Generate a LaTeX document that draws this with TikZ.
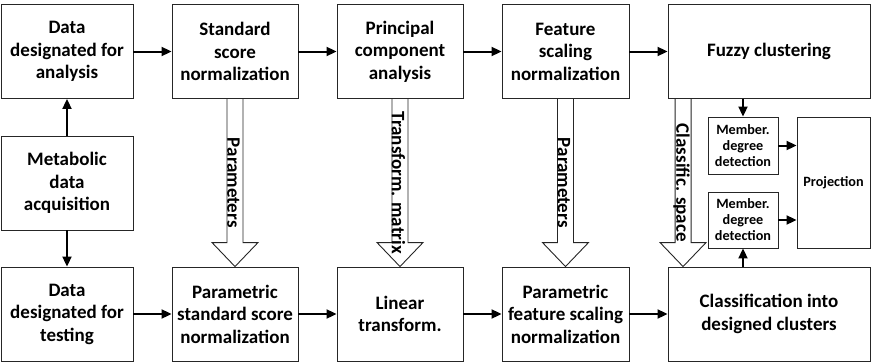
\documentclass[tikz,border=0pt]{standalone}
\usepackage{fontspec}
\setmainfont{Carlito}
\usetikzlibrary{calc,arrows.meta}
\pgfdeclarelayer{background}
\pgfsetlayers{background,main}
\newcommand{\harrow}[3]{%
  \begin{pgfonlayer}{background}
  \path[hollow] ($(#1)+(-8,0)$) -- ($(#2)+(-8,-24)$) -- ($(#2)+(-23,-24)$) -- (#2)
     -- ($(#2)+(23,-24)$) -- ($(#2)+(8,-24)$) -- ($(#1)+(8,0)$);
  \end{pgfonlayer}
  \node[lab] at ($(#1)!0.5!(#2)+(-1.5,0)$) {#3};}
\begin{document}
\begin{tikzpicture}[x=1pt,y=-1pt,
 box/.style={draw=black!85, line width=0.9pt, align=center, font=\bfseries\fontsize{19}{22.5}\selectfont, inner sep=0pt, minimum height=94pt},
 small/.style={draw=black!85, line width=0.9pt, align=center, font=\bfseries\fontsize{14.2}{16}\selectfont, inner sep=0pt},
 conn/.style={line width=2pt, -{Triangle[length=10pt,width=9pt]}},
 hollow/.style={draw=black!85, line width=0.9pt, fill=white},
 lab/.style={font=\bfseries\fontsize{19}{20}\selectfont, rotate=-90, inner sep=0pt}]
\useasboundingbox (0,0) rectangle (871,364);
% top row
\node[box, minimum width=132pt] (ana) at (67,51.5) {Data\\designated for\\analysis};
\node[box, minimum width=126pt] (std) at (235,51.5) {Standard\\score\\normalization};
\node[box, minimum width=126pt] (pca) at (400,51.5) {Principal\\component\\analysis};
\node[box, minimum width=127pt] (fsn) at (565.5,51.5) {Feature\\scaling\\normalization};
\node[box, minimum width=202pt] (fuz) at (769,51.5) {Fuzzy clustering};
% middle
\node[box, minimum width=132pt] (met) at (67,183) {Metabolic\\data\\acquisition};
\node[small, minimum width=70pt, minimum height=57pt] (mem1) at (743,145.5) {Member.\\degree\\detection};
\node[small, minimum width=70pt, minimum height=56pt] (mem2) at (743,220) {Member.\\degree\\detection};
\node[small, minimum width=73pt, minimum height=131pt] (proj) at (833.5,182.5) {Projection};
% bottom row
\node[box, minimum width=132pt] (tst) at (67,314) {Data\\designated for\\testing};
\node[box, minimum width=126pt] (pstd) at (235,314) {Parametric\\standard score\\normalization};
\node[box, minimum width=126pt] (lin) at (400,314) {Linear\\transform.};
\node[box, minimum width=127pt] (pfsn) at (565.5,314) {Parametric\\feature scaling\\normalization};
\node[box, minimum width=202pt] (cls) at (769,314) {Classification into\\designed clusters};
% connectors
\draw[conn] (met) -- (ana);
\draw[conn] (met) -- (tst);
\draw[conn] (ana) -- (std);
\draw[conn] (std) -- (pca);
\draw[conn] (pca) -- (fsn);
\draw[conn] (fsn) -- (fuz);
\draw[conn] (tst) -- (pstd);
\draw[conn] (pstd) -- (lin);
\draw[conn] (lin) -- (pfsn);
\draw[conn] (pfsn) -- (cls);
\draw[conn] (fuz.south -| mem1) -- (mem1);
\draw[conn] (cls.north -| mem2) -- (mem2);
\draw[conn] (mem1.east) -- (mem1.east -| proj.west);
\draw[conn] (mem2.east) -- (mem2.east -| proj.west);
% hollow arrows
\harrow{std.south}{pstd.north}{Parameters}
\harrow{pca.south}{lin.north}{Transform. matrix}
\harrow{fsn.south}{pfsn.north}{Parameters}
\coordinate (cs1) at ($(fuz.south west)+(15.5,0)$);
\coordinate (cs2) at ($(cls.north west)+(15.5,0)$);
\harrow{cs1}{cs2}{Classific. space}
\end{tikzpicture}
\end{document}
